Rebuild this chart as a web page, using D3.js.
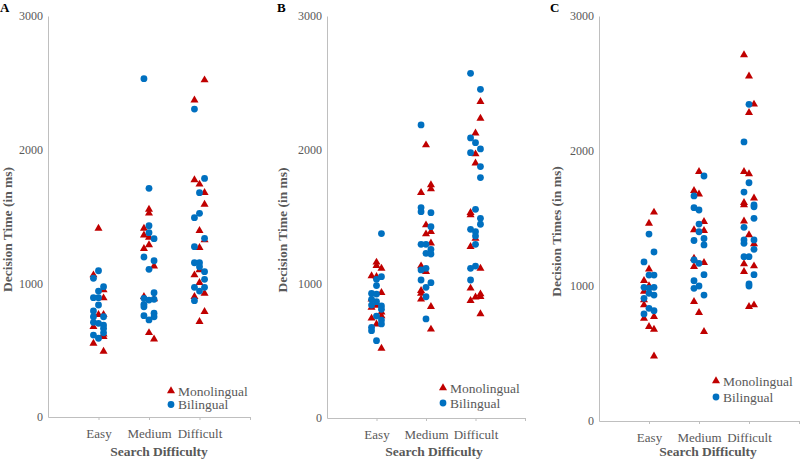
<!DOCTYPE html>
<html><head><meta charset="utf-8">
<script src="https://cdn.jsdelivr.net/npm/d3@7"></script>
<style>
body{margin:0;background:#fff;}
svg text{font-family:"Liberation Serif","Times New Roman",Tinos,"DejaVu Serif",serif !important;}
</style></head>
<body>
<svg id="chart" width="800" height="462"></svg>
<script>
// ---- data ----
const categories = ["Easy", "Medium", "Difficult"];
const yTicks = [0, 1000, 2000, 3000];
const seriesNames = ["Monolingual", "Bilingual"];
const panelLetters = ["A", "B", "C"];
const yTitles = ["Decision Time (in ms)", "Decision Time (in ms)", "Decision Times (in ms)"];
const xTitle = "Search Difficulty";

// [x value (category position with jitter), decision time]
const monoA = [
 [1.0,1411],[0.9,1062],[1.1,950],[1.1,890],[1.0,765],[1.1,765],[0.9,675],[1.1,620],[1.1,600],[0.9,550],[1.1,490],
 [2.0,1553],[2.0,1524],[1.9,1411],[1.9,1361],[2.0,1344],[2.0,1287],[1.9,1259],[2.1,1129],[1.9,900],[2.1,883],[2.0,630],[2.1,583],
 [3.1,2521],[2.9,2371],[2.9,1773],[3.0,1741],[3.1,1678],[3.1,1591],[3.0,1394],[3.1,1324],[3.0,1267],[3.0,1100],[2.9,1062],[3.0,1005],[3.1,925],[2.9,900],[3.1,788],[3.0,713]
];
const biA = [
 [1.0,1094],[0.9,1038],[1.1,975],[1.0,942],[0.9,893],[1.0,893],[1.0,838],[0.9,793],[0.9,750],[1.1,750],[0.9,708],[1.0,701],[1.1,688],[1.1,663],[1.1,630],[0.9,613],[1.0,589],
 [1.9,2531],[2.0,1711],[2.0,1431],[2.0,1379],[2.1,1334],[1.9,1197],[2.1,1169],[2.0,1105],[2.1,930],[1.9,888],[2.0,875],[2.1,880],[1.9,843],[1.9,825],[2.1,776],[1.9,758],[2.1,750],[2.0,726],
 [2.9,2304],[3.1,1785],[3.0,1678],[3.0,1524],[2.9,1491],[3.1,1337],[2.9,1274],[2.9,1154],[3.0,1154],[3.0,1124],[3.1,1087],[3.1,1030],[2.9,970],[3.1,970],[3.0,942],[2.9,870]
];
const monoB = [
 [1.0,1162],[1.0,1137],[1.1,1117],[0.9,1060],[1.0,1055],[1.1,935],[0.9,886],[1.0,840],[0.9,825],[1.1,790],[1.1,761],[0.9,744],[1.0,700],[1.1,520],
 [2.0,2037],[2.1,1739],[2.1,1709],[1.9,1682],[2.0,1440],[2.1,1391],[2.0,1373],[2.1,1304],[1.9,1134],[2.0,1092],[1.9,950],[1.9,930],[1.9,886],[2.1,831],[2.1,662],
 [3.1,2361],[3.1,2236],[3.0,2125],[3.0,1970],[3.0,1901],[2.9,1532],[2.9,1515],[3.0,1341],[2.9,1279],[3.1,1117],[2.9,968],[3.1,925],[3.0,901],[3.1,906],[2.9,876],[3.1,776]
];
const biB = [
 [1.1,1376],[1.1,1055],[1.0,1035],[1.0,988],[0.9,930],[1.0,925],[0.9,886],[1.0,868],[0.9,843],[1.1,836],[1.1,811],[1.0,761],[1.1,731],[1.1,702],[0.9,677],[0.9,652],[1.0,577],
 [1.9,2187],[1.9,1570],[1.9,1540],[2.1,1532],[2.1,1428],[1.9,1296],[2.0,1296],[2.1,1259],[2.0,1229],[2.1,1224],[1.9,1105],[2.0,1117],[1.9,1030],[2.1,1010],[2.0,975],[2.0,905],[2.0,739],
 [2.9,2572],[3.1,2453],[2.9,2090],[3.0,2055],[3.1,2008],[2.9,1980],[3.1,1876],[3.1,1794],[3.0,1557],[3.1,1490],[3.1,1446],[2.9,1408],[3.0,1390],[3.0,1358],[3.0,1296],[3.0,1134],[2.9,1117],[2.9,1030]
];
const monoC = [
 [1.1,1546],[1.0,1464],[1.0,1124],[0.9,1039],[1.0,1000],[0.9,960],[0.9,896],[0.9,859],[1.1,773],[0.9,760],[1.0,699],[1.1,679],[1.1,481],
 [2.0,1847],[1.9,1706],[2.0,1681],[2.1,1476],[1.9,1415],[2.1,1410],[1.9,1205],[2.1,1173],[1.9,1143],[1.9,884],[2.0,802],[2.1,662],
 [2.9,2711],[3.0,2555],[3.1,2346],[3.0,2284],[2.9,1847],[3.0,1830],[3.1,1650],[2.9,1617],[2.9,1600],[2.9,1481],[3.0,1378],[3.1,1311],[2.9,1163],[3.1,1148],[2.9,1106],[3.0,847],[3.1,859]
];
const biC = [
 [1.0,1385],[1.1,1252],[0.9,1178],[1.0,1081],[1.1,1081],[0.9,990],[1.0,983],[1.1,990],[1.0,946],[1.1,933],[0.9,909],[1.0,835],[1.1,817],[0.9,793],
 [2.1,1815],[1.9,1667],[1.9,1580],[2.0,1563],[2.0,1459],[2.0,1402],[2.1,1352],[1.9,1337],[2.1,1304],[1.9,1193],[2.0,1168],[2.1,1084],[1.9,1039],[2.0,1000],[1.9,983],[2.1,933],
 [3.0,2346],[2.9,2067],[3.0,1765],[2.9,1696],[3.1,1587],[3.1,1601],[3.1,1501],[2.9,1435],[2.9,1341],[3.1,1341],[2.9,1316],[3.1,1272],[3.0,1217],[2.9,1217],[3.1,1084],[3.0,1015],[3.0,1000]
];

// ---- layout ----
const panels = [
 {mono: monoA, bi: biA, x0: 48, x1: 250, yTop: 16, yBot: 417, titleX: 7, xTitleX: 159, letterX: 0, legX: 171, legY: 391, legGap: 13.5},
 {mono: monoB, bi: biB, x0: 327, x1: 525, yTop: 16, yBot: 418, titleX: 282, xTitleX: 434, letterX: 277, legX: 443, legY: 388, legGap: 15},
 {mono: monoC, bi: biC, x0: 599, x1: 799, yTop: 16, yBot: 421, titleX: 556, xTitleX: 708, letterX: 550, legX: 716, legY: 381, legGap: 16}
];
const RED = "#C00000", BLUE = "#0070C0", AXIS = "#BFBFBF", TXT = "#595959";
const FONT = '"Liberation Serif","Times New Roman",Tinos,"DejaVu Serif",serif';
const svg = d3.select("#chart");
const tri = d3.symbol().type(d3.symbolTriangle).size(28);

panels.forEach((p, i) => {
  const x = d3.scaleLinear().domain([0, 4]).range([p.x0, p.x1]);
  const y = d3.scaleLinear().domain([0, 3000]).range([p.yBot, p.yTop]);
  const g = svg.append("g").attr("font-family", FONT);

  // y axis
  const ya = g.append("g").attr("transform", `translate(${p.x0},0)`)
    .call(d3.axisLeft(y).tickValues(yTicks).tickSize(0).tickPadding(5).tickFormat(d3.format("d")));
  ya.attr("font-family", FONT);
  ya.select(".domain").attr("stroke", AXIS);
  ya.selectAll("text").attr("fill", TXT).attr("font-size", 12);

  // x axis
  const xa = g.append("g").attr("transform", `translate(0,${p.yBot})`)
    .call(d3.axisBottom(x).tickValues([1, 2, 3, 4]).tickSizeInner(3).tickSizeOuter(0).tickPadding(9)
      .tickFormat(d => categories[d - 1] || ""));
  xa.attr("font-family", FONT);
  xa.select(".domain").attr("stroke", AXIS);
  xa.selectAll(".tick line").attr("stroke", AXIS);
  xa.selectAll("text").attr("fill", TXT).attr("font-size", 13);

  // titles
  g.append("text").attr("transform", `translate(${p.titleX},${(p.yTop + p.yBot) / 2 + 13}) rotate(-90)`)
    .attr("text-anchor", "middle").attr("dy", "0.35em").attr("fill", TXT)
    .attr("font-weight", "bold").attr("font-size", 13.5).text(yTitles[i]);
  g.append("text").attr("x", p.xTitleX).attr("y", 456).attr("text-anchor", "middle").attr("fill", TXT)
    .attr("font-weight", "bold").attr("font-size", 13.5).text(xTitle);
  g.append("text").attr("x", p.letterX).attr("y", 12).attr("fill", "#000")
    .attr("font-weight", "bold").attr("font-size", 13).text(panelLetters[i]);

  // marks
  g.append("g").selectAll("path").data(p.mono).join("path")
    .attr("d", tri).attr("fill", RED)
    .attr("transform", d => `translate(${x(d[0])},${y(d[1])})`);
  g.append("g").selectAll("circle").data(p.bi).join("circle")
    .attr("cx", d => x(d[0])).attr("cy", d => y(d[1])).attr("r", 3.4).attr("fill", BLUE);

  // legend
  const lg = g.append("g");
  lg.append("path").attr("d", tri).attr("fill", RED).attr("transform", `translate(${p.legX},${p.legY})`);
  lg.append("circle").attr("cx", p.legX).attr("cy", p.legY + p.legGap).attr("r", 3.4).attr("fill", BLUE);
  lg.append("text").attr("x", p.legX + 7).attr("y", p.legY).attr("dy", "0.35em").attr("fill", TXT)
    .attr("font-size", 13.5).text(seriesNames[0]);
  lg.append("text").attr("x", p.legX + 7).attr("y", p.legY + p.legGap).attr("dy", "0.35em").attr("fill", TXT)
    .attr("font-size", 13.5).text(seriesNames[1]);
});
</script>
</body></html>
